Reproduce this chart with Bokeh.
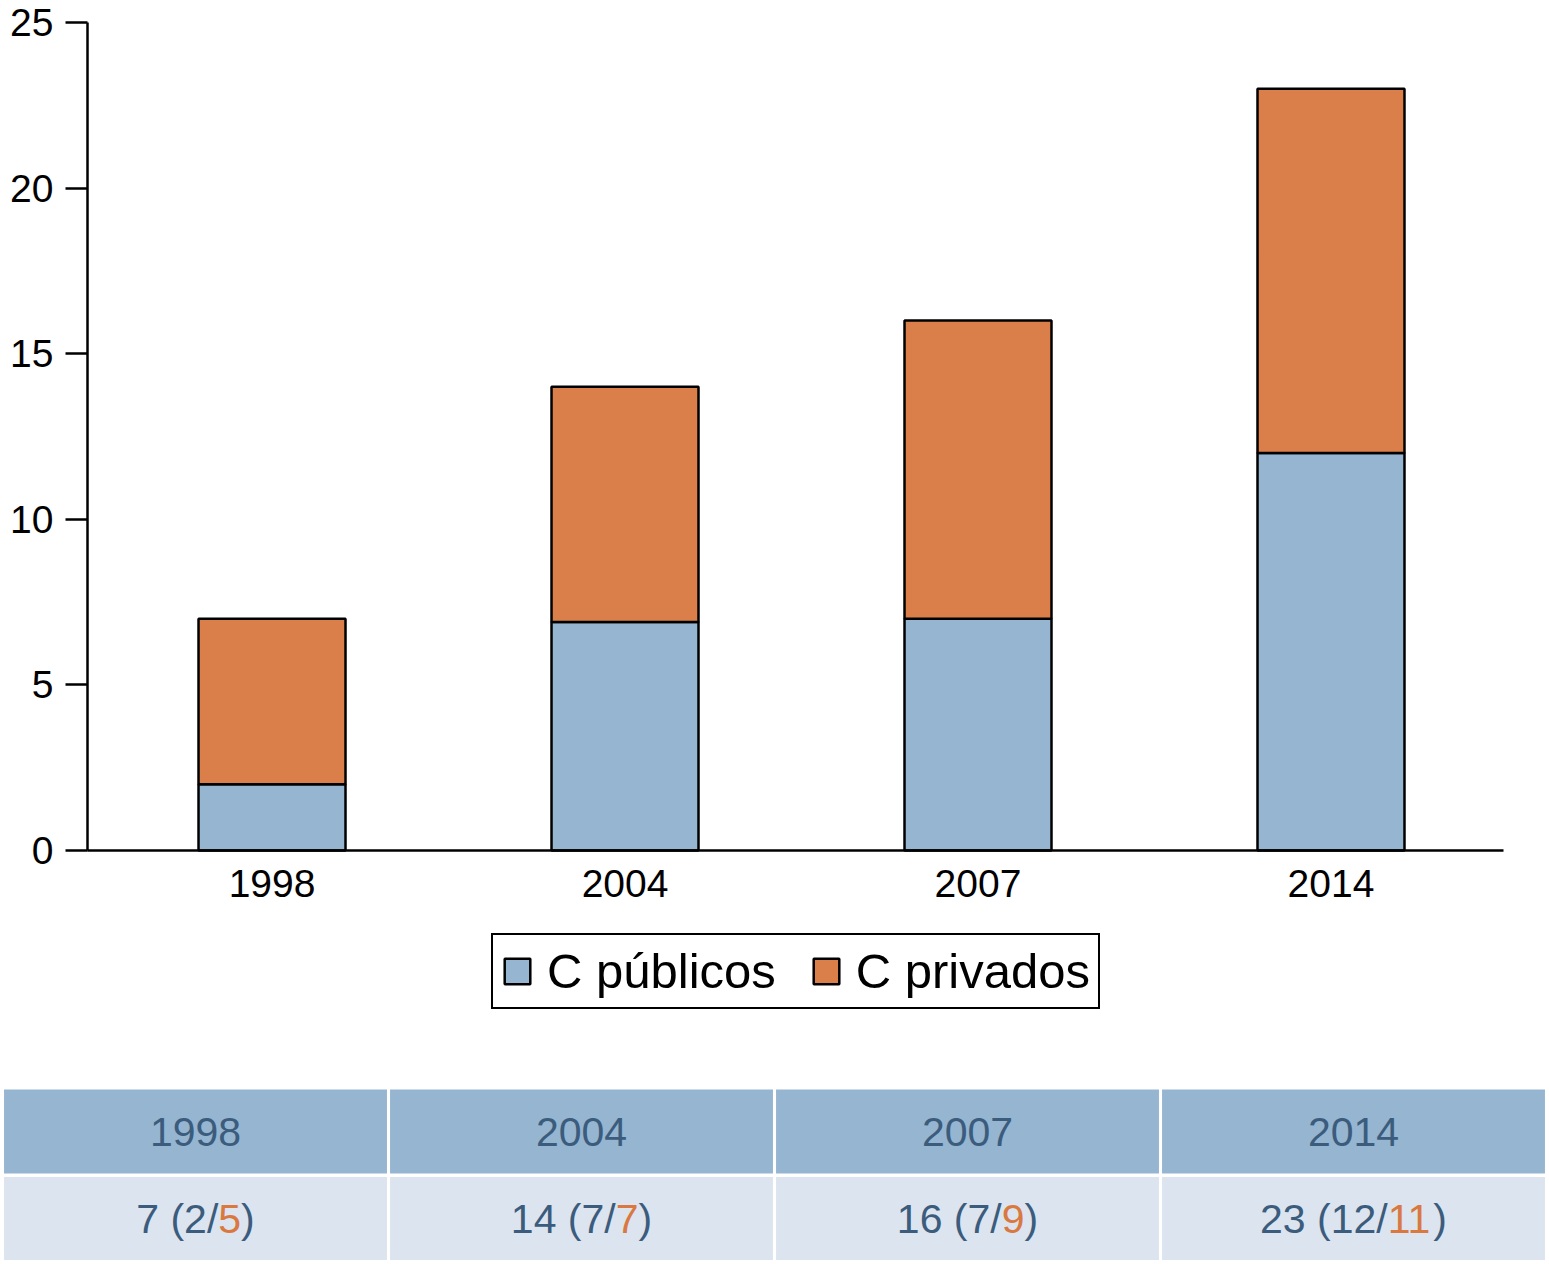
from bokeh.plotting import figure
from bokeh.models import (Range1d, FixedTicker, Legend, LegendItem, LinearAxis)
from bokeh.embed import file_html
from bokeh.resources import INLINE
from bokeh.core.properties import value

# ---------------- data ----------------
years = ["1998", "2004", "2007", "2014"]
publicos = [2, 6.9, 7, 12]
privados = [5, 7.1, 9, 11]

tabla_total = [7, 14, 16, 23]
tabla_pub = [2, 7, 7, 12]
tabla_priv = [5, 7, 9, 11]

y_ticks = [0, 5, 10, 15, 20, 25]

# ---------------- styles ----------------
FONT = "Liberation Sans"
BLUE = "#95b5d1"
ORANGE = "#db7f4a"
ROW_BG = "#dce4ef"
TXT_BLUE = "#3b5c7c"
TXT_ORANGE = "#d9783f"

idx = list(range(len(years)))
totales = [a + b for a, b in zip(publicos, privados)]

# chart x: axis line from X_LEFT to X_RIGHT ; frame extends further for the table
X_LEFT, X_RIGHT = -0.5227, 3.4887

p = figure(width=1546, height=1260,
           x_range=Range1d(-0.7635, 3.6105), y_range=Range1d(-12.379, 25.664),
           output_backend="svg", toolbar_location=None,
           x_axis_location=None, y_axis_location=None,
           min_border_left=2, min_border_right=0, min_border_top=0,
           min_border_bottom=0)
p.grid.visible = False
p.outline_line_color = None
p.extra_x_ranges = {"tabla": Range1d(0, 4)}
p.extra_y_ranges = {"tabla": Range1d(-0.4743, 13.926)}

r_pub = p.vbar(x=idx, bottom=0, top=publicos, width=0.4164,
               fill_color=BLUE, line_color="black", line_width=2.5)
r_priv = p.vbar(x=idx, bottom=publicos, top=totales, width=0.4164,
                fill_color=ORANGE, line_color="black", line_width=2.5)

xax = LinearAxis(fixed_location=0, bounds=(X_LEFT, X_RIGHT),
                 ticker=FixedTicker(ticks=idx),
                 major_label_overrides={i: y for i, y in zip(idx, years)},
                 major_tick_out=0, major_tick_in=0, major_label_standoff=19)
yax = LinearAxis(fixed_location=X_LEFT, bounds=(0, 25),
                 ticker=FixedTicker(ticks=y_ticks),
                 major_tick_out=22, major_tick_in=0, major_label_standoff=12)
for ax in (xax, yax):
    ax.axis_line_color = "black"
    ax.axis_line_width = 2.5
    ax.major_tick_line_width = 2.5
    ax.major_tick_line_color = "black"
    ax.minor_tick_line_color = None
    ax.major_label_text_font = FONT
    ax.major_label_text_font_size = "39px"
    ax.major_label_text_color = "black"
p.add_layout(xax, "below")
p.add_layout(yax, "left")

legend = Legend(items=[LegendItem(label="C públicos", renderers=[r_pub]),
                       LegendItem(label="C privados", renderers=[r_priv])],
                orientation="horizontal", location=(489, 251),
                label_text_font=FONT, label_text_font_size="49px",
                label_text_color="black",
                glyph_width=32, glyph_height=32, label_standoff=14,
                spacing=34, padding=8, margin=0,
                border_line_color="black", border_line_width=2.5,
                border_line_alpha=1.0,
                background_fill_color="white", background_fill_alpha=1.0)
p.add_layout(legend, "center")

# ---------------- table ----------------
cx = [i + 0.5 for i in idx]
p.rect(x=cx, y=[1] * len(cx), width=0.992, height=0.96,
       fill_color=BLUE, line_color=None,
       x_range_name="tabla", y_range_name="tabla")
p.rect(x=cx, y=[0] * len(cx), width=0.992, height=0.96,
       fill_color=ROW_BG, line_color=None,
       x_range_name="tabla", y_range_name="tabla")

FS = 41
p.text(x=cx, y=[1] * len(cx), text=years, text_align="center",
       text_baseline="middle", text_font=value(FONT),
       text_font_size=f"{FS}px", text_color=TXT_BLUE,
       x_range_name="tabla", y_range_name="tabla")

W = {c: 0.556 for c in "0123456789"}
W.update({" ": 0.278, "(": 0.333, ")": 0.333, "/": 0.278})


def tw(s):
    return sum(W[c] for c in s) * FS


for x, tot, pu, pr in zip(cx, tabla_total, tabla_pub, tabla_priv):
    parts = [f"{tot} ({pu}/", f"{pr}", ")"]
    colors = [TXT_BLUE, TXT_ORANGE, TXT_BLUE]
    total_w = sum(tw(s) for s in parts)
    off = -total_w / 2
    for s, c in zip(parts, colors):
        p.text(x=[x], y=[0], text=[s], x_offset=off, text_align="left",
               text_baseline="middle", text_font=value(FONT),
               text_font_size=f"{FS}px", text_color=c,
               x_range_name="tabla", y_range_name="tabla")
        off += tw(s)

open("out.html", "w").write(file_html(p, INLINE))
